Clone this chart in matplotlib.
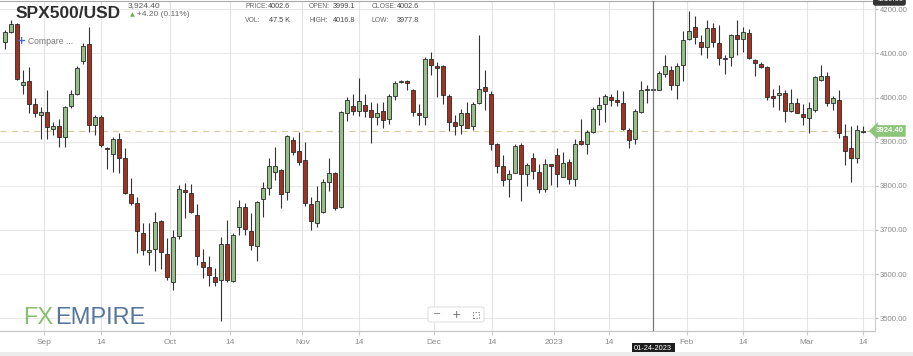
import matplotlib
matplotlib.use("Agg")
import matplotlib.pyplot as plt
import numpy as np
from matplotlib.patches import FancyBboxPatch, Rectangle

# daily OHLC, SPX500/USD, late Aug 2022 -> Mar 14 2023
opens = [4126, 4149, 4166, 4028, 4037, 3986, 3960, 3968, 3928, 3935,
         3911, 3980, 4009, 4083, 4122, 3937, 3956, 3886, 3873, 3907,
         3862, 3781, 3762, 3692, 3650, 3656, 3721, 3646, 3583, 3687,
         3790, 3783, 3734, 3627, 3615, 3594, 3587, 3668, 3585, 3707,
         3751, 3698, 3664, 3769, 3796, 3832, 3836, 3787, 3903, 3878,
         3858, 3759, 3716, 3740, 3808, 3829, 3753, 3966, 3980, 3969,
         3984, 3971, 3956, 3969, 3952, 4004, 4035, 4037, 4017, 3966,
         3955, 4088, 4071, 4072, 4003, 3945, 3937, 3964, 3935, 3988,
         4023, 4008, 3894, 3845, 3815, 3830, 3892, 3826, 3862, 3832,
         3793, 3849, 3871, 3821, 3853, 3815, 3901, 3894, 3922, 3974,
         3986, 4002, 3994, 3988, 3926, 3907, 3968, 4018, 4018, 4018,
         4053, 4062, 4029, 4073, 4133, 4160, 4125, 4115, 4158, 4124,
         4088, 4092, 4141, 4132, 4147, 4086, 4077, 4069, 4003, 4005,
         4011, 3970, 3988, 3962, 3954, 3973, 4041, 4048, 3988, 3995,
         3913, 3886, 3864, 3922]
highs = [4154, 4175, 4170, 4062, 4069, 4000, 3979, 4017, 3945, 3952,
         3980, 4018, 4072, 4124, 4160, 3960, 3960, 3888, 3911, 3919,
         3885, 3817, 3775, 3715, 3715, 3741, 3723, 3681, 3700, 3802,
         3807, 3805, 3759, 3656, 3640, 3613, 3685, 3723, 3693, 3768,
         3760, 3738, 3766, 3809, 3862, 3888, 3839, 3915, 3911, 3922,
         3900, 3775, 3799, 3815, 3863, 3832, 3969, 4002, 4009, 4044,
         4009, 3990, 3988, 3990, 4008, 4037, 4041, 4039, 4020, 3986,
         4092, 4103, 4081, 4073, 4009, 3960, 3975, 3990, 3990, 4143,
         4062, 4015, 3897, 3870, 3836, 3894, 3896, 3851, 3875, 3849,
         3860, 3850, 3885, 3877, 3860, 3907, 3952, 3926, 3979, 4002,
         4009, 4009, 4017, 4015, 3930, 3975, 4037, 4028, 4021, 4060,
         4096, 4072, 4078, 4152, 4196, 4184, 4141, 4176, 4169, 4164,
         4096, 4145, 4175, 4160, 4156, 4088, 4081, 4071, 4019, 4028,
         4018, 4020, 3998, 3985, 3989, 4048, 4075, 4058, 4003, 4018,
         3940, 3936, 3939, 3935]
lows = [4111, 4146, 4040, 4009, 3965, 3956, 3907, 3907, 3915, 3888,
        3888, 3977, 4005, 4077, 3922, 3915, 3888, 3839, 3832, 3828,
        3781, 3756, 3647, 3643, 3621, 3606, 3611, 3587, 3564, 3680,
        3726, 3738, 3621, 3591, 3572, 3572, 3493, 3583, 3583, 3689,
        3689, 3655, 3630, 3730, 3779, 3813, 3749, 3768, 3870, 3847,
        3754, 3700, 3706, 3738, 3789, 3745, 3749, 3947, 3960, 3958,
        3956, 3897, 3937, 3932, 3940, 3995, 4032, 4018, 3958, 3937,
        3937, 4051, 4002, 3986, 3925, 3915, 3917, 3930, 3926, 3986,
        3971, 3881, 3828, 3800, 3775, 3828, 3766, 3799, 3815, 3784,
        3787, 3802, 3798, 3819, 3805, 3800, 3892, 3873, 3919, 3937,
        3945, 3980, 3980, 3926, 3885, 3894, 3964, 3988, 4017, 4017,
        4047, 4018, 3996, 4037, 4130, 4122, 4096, 4090, 4115, 4073,
        4053, 4071, 4096, 4103, 4088, 4048, 4066, 3995, 3979, 3973,
        3945, 3968, 3964, 3937, 3920, 3968, 4037, 3980, 3971, 3909,
        3847, 3809, 3852, 3919]
closes = [4149, 4166, 4043, 4035, 3986, 3964, 3968, 3934, 3936, 3911,
          3979, 4009, 4066, 4118, 3937, 3956, 3892, 3884, 3907, 3864,
          3783, 3760, 3698, 3655, 3655, 3719, 3649, 3594, 3685, 3793,
          3785, 3740, 3640, 3617, 3598, 3583, 3667, 3587, 3689, 3751,
          3701, 3666, 3764, 3796, 3845, 3845, 3781, 3913, 3877, 3854,
          3762, 3721, 3765, 3808, 3829, 3749, 3968, 3994, 3970, 3992,
          3969, 3955, 3966, 3950, 4003, 4032, 4038, 4032, 3968, 3960,
          4088, 4073, 4066, 4005, 3945, 3936, 3964, 3931, 3986, 4020,
          4014, 3894, 3845, 3813, 3826, 3890, 3826, 3847, 3833, 3792,
          3849, 3846, 3827, 3852, 3815, 3894, 3894, 3922, 3975, 3984,
          4003, 3994, 3990, 3928, 3903, 3969, 4018, 4020, 4020, 4056,
          4072, 4029, 4072, 4130, 4152, 4137, 4115, 4158, 4126, 4090,
          4090, 4141, 4132, 4149, 4090, 4079, 4069, 4002, 4000, 4011,
          3970, 3988, 3965, 3956, 3977, 4047, 4048, 3988, 3998, 3919,
          3879, 3862, 3926, 3924.4]

# x-axis labels and where they sit (in candle positions)
tick_labels = ["Sep", "14", "Oct", "14", "Nov", "14", "Dec", "14",
               "2023", "14", "Feb", "14", "Mar", "14"]
tick_pos = [6.6, 16.0, 27.5, 37.6, 49.6, 59.0, 71.55, 81.1,
            91.5, 100.7, 113.6, 123.0, 133.6, 143.0]
price_ticks = [3500, 3600, 3700, 3800, 3900, 4000, 4100, 4200]

last_price = 3924.40
chart_top = 4219.00
cursor_pos = 108.0
cursor_date = "01-24-2023"

W, H = 913, 356


def px(x, y):
    return x / W, 1 - y / H


fig = plt.figure(figsize=(W / 100, H / 100), dpi=100)
fig.patch.set_facecolor("white")
ax = fig.add_axes([0, (H - 330.5) / H, 875 / W, 329.5 / H])

x = np.arange(len(opens))
o = np.array(opens, float)
c = np.array(closes, float)
hi = np.array(highs, float)
lo = np.array(lows, float)
up = c >= o

ax.vlines(x, lo, hi, color="#333333", lw=0.8, zorder=3)
bottom = np.minimum(o, c)
height = np.maximum(np.abs(c - o), 2.5)
cols = np.where(up, "#93bf85", "#a3311f")
ax.bar(x, height, bottom=bottom, width=0.64, color=cols,
       edgecolor="#2a2a2a", linewidth=0.6, zorder=4)

ax.set_xlim(-0.78, 144.95)
ax.set_ylim(3472, chart_top)

# grid
for p in price_ticks:
    ax.axhline(p, color="#e9e9e9", lw=0.8, zorder=0)
for t in tick_pos:
    ax.axvline(t, color="#e4e4e4", lw=0.8, zorder=0)
ax.axhline(last_price, color="#d9cfa6", lw=0.9, ls=(0, (5, 4)), zorder=2)
ax.axvline(cursor_pos, color="#777777", lw=0.9, zorder=5)

ax.spines["left"].set_visible(False)
ax.spines["top"].set_color("#a8a8a8")
ax.spines["right"].set_color("#cccccc")
ax.spines["bottom"].set_color("#c4c4c4")

ax.set_xticks(tick_pos)
ax.set_xticklabels(tick_labels, fontsize=6, color="#8a8a8a",
                   family="Liberation Sans")
ax.tick_params(axis="x", length=3, color="#cccccc", pad=3)
ax.yaxis.tick_right()
ax.set_yticks(price_ticks)
ax.set_yticklabels(["%.2f" % p for p in price_ticks], fontsize=5.6,
                   color="#8a8a8a", family="Liberation Sans")
ax.tick_params(axis="y", length=2, color="#bbbbbb", pad=1.5)
ax.set_facecolor("white")

# price labels on the right
ytr = ax.get_yaxis_transform()
ax.text(1.0165, last_price, "%.2f" % last_price, transform=ytr,
        fontsize=5.6, color="white", fontweight="bold", ha="center",
        va="center", family="Liberation Sans", zorder=10, clip_on=False,
        bbox=dict(boxstyle="larrow,pad=0.3", fc="#8cc47a", ec="none"))
ax.text(1.0165, chart_top + 2.5, "%.2f" % chart_top, transform=ytr,
        fontsize=5.6, color="white", ha="center", va="center",
        family="Liberation Sans", zorder=10, clip_on=False,
        bbox=dict(boxstyle="round,pad=0.3", fc="#333333", ec="none"))

# crosshair date box
ax.text(cursor_pos, -0.045, cursor_date, transform=ax.get_xaxis_transform(),
        fontsize=5.3, color="white", ha="center", va="top",
        family="Liberation Sans", clip_on=False, zorder=10,
        bbox=dict(boxstyle="square,pad=0.35", fc="#1e1e1e", ec="none"))

# header
fig.text(*px(16, 13.5), "SPX500/USD", fontsize=12.5, fontweight="bold",
         color="#2e2e2e", va="center", family="Liberation Sans")
fig.text(*px(128, 5.5), "3,924.40", fontsize=6, color="#555555",
         va="center", family="Liberation Sans")
fig.text(*px(130, 14.5), "\u25b2", fontsize=4.5, color="#6ab04c",
         va="center")
fig.text(*px(137, 14.5), "+4.20 (0.11%)", fontsize=6, color="#666666",
         va="center", family="Liberation Sans")

stats = [(245, 7, "PRICE:", 268, "4002.6"), (245, 20, "VOL:", 269, "47.5 K"),
         (309, 7, "OPEN:", 333, "3999.1"), (309, 20, "HIGH:", 333, "4016.8"),
         (372, 7, "CLOSE:", 397, "4002.6"), (372, 20, "LOW:", 397, "3977.8")]
for lx, ly, lab, vx, val in stats:
    fig.text(*px(lx, ly), lab, fontsize=4.9, color="#666666", va="center",
             family="Liberation Sans")
    fig.text(*px(vx, ly), val, fontsize=5.2, color="#444444", va="center",
             family="Liberation Sans")

fig.text(*px(17, 40.5), "+", fontsize=8, fontweight="bold", color="#3b6fd4",
         va="center")
fig.text(*px(28, 41), "Compare ...", fontsize=6.2, color="#777777",
         va="center", family="Liberation Sans")

# logo
fig.text(*px(23, 317.5), "FX", fontsize=17, color="#86c06a", va="center",
         family="Liberation Sans")
fig.text(*px(55, 317.5), "EMPIRE", fontsize=17, color="#56779a", va="center",
         family="Liberation Sans")

# zoom buttons
x0, y0 = px(428, 322)
x1, y1 = px(484, 307)
fig.patches.append(FancyBboxPatch((x0, y0), x1 - x0, y1 - y0,
                                  boxstyle="round,pad=0,rounding_size=0.004",
                                  transform=fig.transFigure, fc="white",
                                  ec="#e2e2e2", lw=0.8, zorder=5))
fig.text(*px(437, 314.5), "\u2212", fontsize=7, color="#777777",
         ha="center", va="center", zorder=6)
fig.text(*px(456, 314.5), "+", fontsize=8, color="#666666",
         ha="center", va="center", zorder=6)
fx, fy = px(473, 317.5)
fig.patches.append(Rectangle((fx, fy), 6 / W, 6 / H, transform=fig.transFigure,
                             fill=False, ec="#888888", lw=0.7, ls=(0, (1.5, 1.5)),
                             zorder=6))

# bottom strip
fig.patches.append(Rectangle((0, 0), 1, 4 / H, transform=fig.transFigure,
                             fc="#ececec", ec="none", zorder=0))

fig.savefig("out.png", dpi=100)
